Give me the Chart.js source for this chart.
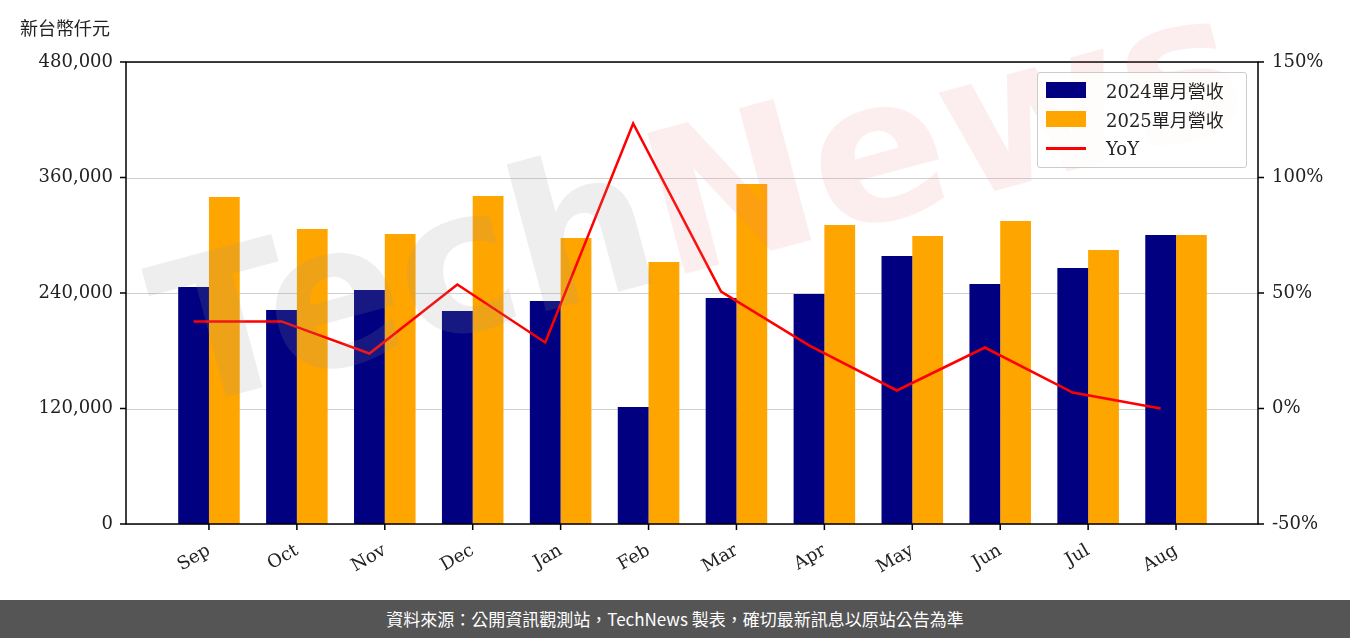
<!DOCTYPE html>
<html><head><meta charset="utf-8">
<script src="https://cdn.jsdelivr.net/npm/chart.js@4.4.0/dist/chart.umd.min.js"></script>
<style>
body{margin:0;width:1350px;height:638px;position:relative;background:#fff;overflow:hidden;font-family:"DejaVu Serif",serif}
#wrap{position:absolute;left:0;top:0;width:1350px;height:600px}
#unit{position:absolute;left:20px;top:14px;font:18px "Noto Sans CJK TC";color:#222}
#foot{position:absolute;left:0;top:600px;width:1350px;height:38px;background:#555;color:#fff;font:17px "Noto Sans CJK TC";text-align:center;line-height:38px}
#wm{position:absolute;left:130px;top:230px;font:bold 200px "DejaVu Sans";color:rgba(150,150,150,0.16);transform:rotate(-15deg);transform-origin:left top;pointer-events:none;white-space:nowrap}
#wm b{color:rgba(230,120,120,0.13)}
#lg{position:absolute;left:1037px;top:72px;width:208px;height:94px;border:1px solid #ccc;border-radius:3px;background:rgba(255,255,255,0.8);font:18px "DejaVu Serif","Noto Sans CJK TC";color:#222}
#lg div{position:absolute;left:8px;height:20px;display:flex;align-items:center}
#lg span.s{display:inline-block;width:40px;height:16px;margin-right:20px}
</style></head><body>
<div id="wrap"><canvas id="c" width="1350" height="600"></canvas></div>
<div id="wm">Tech<b>News</b></div>
<div id="unit">新台幣仟元</div>
<div id="lg">
<div style="top:7px"><span class="s" style="background:#000080"></span>2024單月營收</div>
<div style="top:36px"><span class="s" style="background:#FFA500"></span>2025單月營收</div>
<div style="top:65px"><span class="s" style="height:3px;background:#f00"></span>YoY</div>
</div>
<div id="foot">資料來源：公開資訊觀測站，TechNews 製表，確切最新訊息以原站公告為準</div>
<script>
const months = ["Sep","Oct","Nov","Dec","Jan","Feb","Mar","Apr","May","Jun","Jul","Aug"];
const rev2024 = [246200,222300,243100,221300,231700,121600,234800,239000,278400,249400,266000,300300];
const rev2025 = [339700,306500,301300,340800,297100,272200,353200,310600,299200,314800,284700,300300];
const yoy = [37.7,37.7,23.8,53.7,28.6,123.4,50.6,27.3,7.8,26.4,6.9,0];
const yTicks = [0,120000,240000,360000,480000];

const FL = 126, FR = 1258;
const CAT_PCT = 0.7;
const fixW = w => function(s){ s.width = w; };
const tickFont = {family:"DejaVu Serif", size:18};
const frame = {
  id:"frame",
  beforeDatasetsDraw(ch){
    const c=ch.ctx, y=ch.scales.y;
    c.save(); c.strokeStyle="#d0d0d0"; c.lineWidth=1;
    yTicks.forEach(v=>{const p=Math.round(y.getPixelForValue(v))+0.5;c.beginPath();c.moveTo(FL,p);c.lineTo(FR,p);c.stroke();});
    c.restore();
  },
  // YoY line sits on the centre of the 2024 bar
  beforeDatasetDraw(ch, args){
    if (args.index !== 2) return;
    const x=ch.scales.x, step=x.getPixelForValue(1)-x.getPixelForValue(0);
    ch.ctx.save(); ch.ctx.translate(-step*CAT_PCT/4, 0);
  },
  afterDatasetDraw(ch, args){ if (args.index === 2) ch.ctx.restore(); },
  afterDraw(ch){
    const c=ch.ctx, a=ch.chartArea, y=ch.scales.y, y1=ch.scales.y1, x=ch.scales.x;
    c.save(); c.strokeStyle="#000"; c.lineWidth=1.5;
    c.strokeRect(FL,a.top,FR-FL,a.bottom-a.top);
    c.beginPath();
    yTicks.forEach(v=>{const p=y.getPixelForValue(v);c.moveTo(FL-6,p);c.lineTo(FL,p);});
    [-50,0,50,100,150].forEach(v=>{const p=y1.getPixelForValue(v);c.moveTo(FR,p);c.lineTo(FR+6,p);});
    months.forEach((m,i)=>{const p=x.getPixelForValue(i);c.moveTo(p,a.bottom);c.lineTo(p,a.bottom+6);});
    c.stroke(); c.restore();
  }
};
new Chart(document.getElementById("c"), {
  data: {
    labels: months,
    datasets: [
      {type:"bar", data: rev2024, backgroundColor:"#000080", yAxisID:"y", categoryPercentage:CAT_PCT, barPercentage:1, order:2},
      {type:"bar", data: rev2025, backgroundColor:"#FFA500", yAxisID:"y", categoryPercentage:CAT_PCT, barPercentage:1, order:2},
      {type:"line", data: yoy, borderColor:"#f00", borderWidth:2.5, pointRadius:0, yAxisID:"y1", tension:0, order:1, clip:false}
    ]
  },
  options: {
    responsive:false, animation:false,
    layout:{padding:{top:62,bottom:0,left:0,right:0}},
    plugins:{legend:{display:false}, tooltip:{enabled:false}},
    scales:{
      x:{grid:{display:false}, border:{display:false}, afterFit(s){s.height=76;},
         ticks:{color:"#222", font:tickFont, maxRotation:30, minRotation:30, padding:8}},
      y:{position:"left", min:0, max:480000, afterFit:fixW(165),
         ticks:{stepSize:120000, color:"#222", font:tickFont, padding:44,
                callback:v=>v.toLocaleString("en-US")},
         grid:{display:false}, border:{display:false}},
      y1:{position:"right", min:-50, max:150, afterFit:fixW(130),
         ticks:{stepSize:50, color:"#222", font:tickFont, padding:44, callback:v=>v+"%"},
         grid:{display:false}, border:{display:false}}
    }
  },
  plugins:[frame]
});
</script>
</body></html>
